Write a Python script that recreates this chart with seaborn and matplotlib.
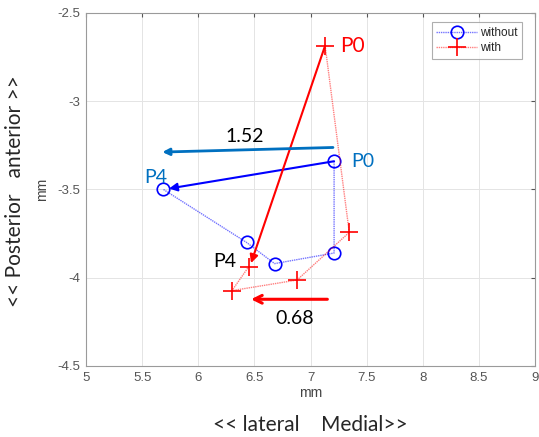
import matplotlib
matplotlib.use("Agg")

import matplotlib.pyplot as plt
import seaborn as sns
import pandas as pd

# trajectories (mm)
without_x = [7.21, 7.21, 6.68, 6.43, 5.69]
without_y = [-3.34, -3.86, -3.92, -3.80, -3.50]
with_x = [7.13, 7.345, 6.88, 6.30, 6.45]
with_y = [-2.685, -3.743, -4.013, -4.073, -3.937]

# lateral shift between P0 and P4
shift_without = 1.52
shift_with = 0.68
shift_without_start = (7.20, -3.262)
shift_without_end_y = -3.288
shift_with_start = (7.15, -4.122)

x_ticks = [5, 5.5, 6, 6.5, 7, 7.5, 8, 8.5, 9]
y_ticks = [-4.5, -4, -3.5, -3, -2.5]

df_without = pd.DataFrame({"x": without_x, "y": without_y})
df_with = pd.DataFrame({"x": with_x, "y": with_y})

sns.set_style("whitegrid")
plt.rcParams["font.family"] = ["Liberation Sans", "DejaVu Sans"]

fig = plt.figure(figsize=(5.39, 4.37), dpi=100)
ax = fig.add_axes([0.1596, 0.1625, 0.833, 0.8078])

sns.lineplot(data=df_without, x="x", y="y", sort=False, estimator=None, ax=ax,
             color="blue", linestyle=(0, (1, 0.6)), linewidth=1.0,
             marker="o", markersize=9, mfc="none", mec="blue", mew=1.2,
             label="without")
sns.lineplot(data=df_with, x="x", y="y", sort=False, estimator=None, ax=ax,
             color="red", linestyle=(0, (1, 0.6)), linewidth=1.0,
             marker="+", markersize=13, mec="red", mew=1.2,
             label="with")
for ln, c in zip(ax.get_lines(), [(0, 0, 1, 0.55), (1, 0, 0, 0.5)]):
    ln.set_color(c)

ax.set_xlim(5, 9)
ax.set_ylim(-4.5, -2.5)
ax.set_xticks(x_ticks)
ax.set_yticks(y_ticks)
ax.set_xticklabels([f"{t:g}" for t in x_ticks])
ax.set_yticklabels([f"{t:g}" for t in y_ticks])
ax.tick_params(colors="#555555", labelsize=9.5, direction="in", length=3,
               top=True, right=True, pad=4)
ax.grid(True, color="#e4e4e4", linewidth=0.7)
for s in ax.spines.values():
    s.set_color("#9a9a9a")
    s.set_linewidth(0.8)
ax.set_xlabel("mm", fontsize=10, color="#444444", labelpad=2)
ax.set_ylabel("mm", fontsize=10, color="#444444", labelpad=6)

# arrows
ax.annotate("", xy=(without_x[-1], without_y[-1]), xytext=(without_x[0], without_y[0]),
            arrowprops=dict(arrowstyle="-|>", color="blue", lw=1.5, mutation_scale=12,
                            shrinkA=0, shrinkB=4))
ax.annotate("", xy=(with_x[-1] + 0.02, with_y[-1] + 0.02), xytext=(with_x[0], with_y[0]),
            arrowprops=dict(arrowstyle="-|>", color="red", lw=1.5, mutation_scale=12,
                            shrinkA=0, shrinkB=0))
ax.annotate("", xy=(shift_without_start[0] - shift_without, shift_without_end_y),
            xytext=shift_without_start,
            arrowprops=dict(arrowstyle="-|>", color="#0070C0", lw=2, mutation_scale=10,
                            shrinkA=0, shrinkB=0))
ax.annotate("", xy=(shift_with_start[0] - shift_with, shift_with_start[1]),
            xytext=shift_with_start,
            arrowprops=dict(arrowstyle="->", color="red", lw=2.2, mutation_scale=14,
                            shrinkA=0, shrinkB=0))

tf = ["Lato", "DejaVu Sans"]
ax.text(7.26, -2.685, "P0", color="red", fontsize=15, family=tf, va="center", ha="left")
ax.text(7.36, -3.34, "P0", color="#0070C0", fontsize=14, family=tf, va="center", ha="left")
ax.text(5.62, -3.43, "P4", color="#0070C0", fontsize=14, family=tf, va="center", ha="center")
ax.text(6.24, -3.91, "P4", color="black", fontsize=14, family=tf, va="center", ha="center")
ax.text(6.41, -3.20, f"{shift_without:.2f}", color="black", fontsize=14, family=tf,
        va="center", ha="center")
ax.text(6.855, -4.23, f"{shift_with:.2f}", color="black", fontsize=14, family=tf,
        va="center", ha="center")

leg = ax.legend(loc="upper right", fontsize=8.5, handlelength=3.4, frameon=True,
                fancybox=False, borderpad=0.4, labelspacing=0.25, handletextpad=0.3,
                bbox_to_anchor=(0.985, 0.99))
leg.get_frame().set_edgecolor("#9a9a9a")
leg.get_frame().set_linewidth(0.8)

fig.text(0.575, 0.027, "<< lateral    Medial>>", fontsize=15, family=tf,
         ha="center", va="center")
fig.text(0.028, 0.563, "<< Posterior   anterior >>", fontsize=15, family=tf,
         ha="center", va="center", rotation=90)

fig.savefig("out.png", dpi=100)
